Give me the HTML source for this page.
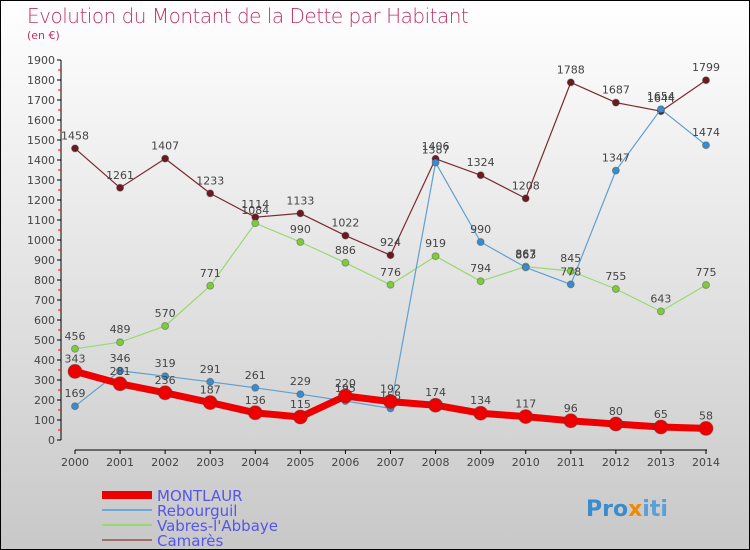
<!DOCTYPE html>
<html><head><meta charset="utf-8"><style>
body{margin:0;}
#c{position:relative;width:748px;height:548px;border:1px solid #000;background:linear-gradient(#fff,#c8c8c8);font-family:"DejaVu Sans","Liberation Sans",sans-serif;overflow:hidden}
.t{position:absolute;left:26px;top:3px;font-size:20px;color:#c0306a;font-weight:200;letter-spacing:-0.5px}
.s{position:absolute;left:26px;top:28px;font-size:11px;color:#c0306a}
</style></head><body>
<div id="c">
<div class="t">Evolution du Montant de la Dette par Habitant</div>
<div class="s">(en €)</div>
<svg id="svg" width="748" height="548" style="position:absolute;left:0;top:0"></svg>
</div>
<script>
const years=[2000,2001,2002,2003,2004,2005,2006,2007,2008,2009,2010,2011,2012,2013,2014];
const yTicks=[0,100,200,300,400,500,600,700,800,900,1000,1100,1200,1300,1400,1500,1600,1700,1800,1900];
const montlaur=[343,281,236,187,136,115,220,192,174,134,117,96,80,65,58];
const rebourguil=[169,346,319,291,261,229,195,158,1387,990,863,778,1347,1654,1474];
const vabres=[456,489,570,771,1084,990,886,776,919,794,867,845,755,643,775];
const camares=[1458,1261,1407,1233,1114,1133,1022,924,1406,1324,1208,1788,1687,1644,1799];
const seriesNames=["MONTLAUR","Rebourguil","Vabres-l'Abbaye","Camarès"];
const svg=document.getElementById('svg');const NS="http://www.w3.org/2000/svg";
function X(i){return 74+i*(705-74)/(years.length-1);}
function Y(v){return 439-v*0.2;}
function el(t,a,p){const e=document.createElementNS(NS,t);for(const k in a)e.setAttribute(k,a[k]);(p||svg).appendChild(e);return e;}
const ya=el('line',{x1:60,y1:Y(1900),x2:60,y2:Y(0),stroke:'#000'});


yTicks.forEach(v=>{el('line',{x1:56,x2:60,y1:Y(v),y2:Y(v),stroke:'#000'});
if(v<1900)el('line',{x1:57,x2:60,y1:Y(v+50),y2:Y(v+50),stroke:'red'});
const t=el('text',{x:54,y:Y(v)+4,'text-anchor':'end','font-size':11,fill:'#444'});t.textContent=v;

});
const xa=el('line',{x1:74,y1:449,x2:706,y2:449,stroke:'#000'});


years.forEach((y,i)=>{el('line',{x1:X(i),x2:X(i),y1:449,y2:453,stroke:'#000'});
const t=el('text',{x:X(i),y:465,'text-anchor':'middle','font-size':11,fill:'#444'});t.textContent=y;

});
function series(data,col,w,r,name,dot){
 const pts=data.map((v,i)=>X(i)+','+Y(v)).join(' ');
 const l=el('polyline',{points:pts,fill:'none',stroke:col,'stroke-width':w,'stroke-linejoin':'round'});
 
 
 data.forEach((v,i)=>{const c=el('circle',{cx:X(i),cy:Y(v),r:r,fill:dot,stroke:'#444','stroke-opacity':0.4});
 
 
 const t=el('text',{x:X(i),y:Y(v)-9,'text-anchor':'middle','font-size':11,fill:'#444'});t.textContent=v;
 
 });
}
series(camares,'#7a2a30',1.2,3.5,'camares','#6a1a20');
series(vabres,'#9ad870',1.2,3.5,'vabres','#7ccc3c');
series(rebourguil,'#5fa0d0',1.2,3.5,'rebourguil','#3a8ccc');
series(montlaur,'#ee0000',7,7,'montlaur','#ee0000');
const lc=['#ee0000','#6aa8d8','#9ad870','#a07070'],lw=[8,2,2,2];
seriesNames.forEach((n,i)=>{const y=494+i*15;
const l=el('line',{x1:101,x2:151,y1:y,y2:y,stroke:lc[i],'stroke-width':lw[i]});


const t=el('text',{x:156,y:y+6,'font-size':15,fill:'#5555ee'});t.textContent=n;

});
const lg=el('text',{x:585,y:515,'font-size':22,'font-weight':'bold',fill:'#3a8ccc'});


[['Pro','#3a8ccc'],['x','#f08a00'],['iti','#5aa0d8']].forEach(p=>{const s=el('tspan',{fill:p[1]},lg);s.textContent=p[0];});
</script>
</body></html>
